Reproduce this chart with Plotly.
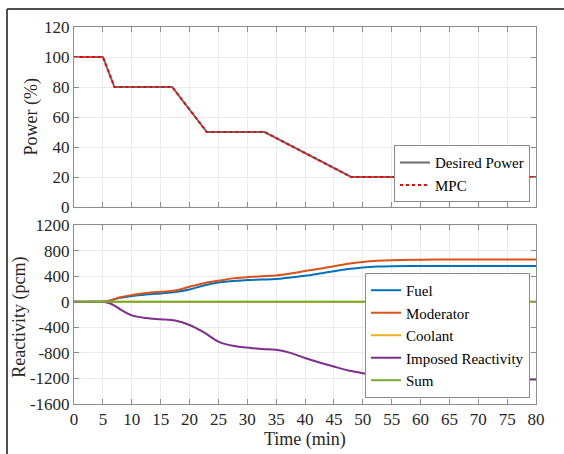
import plotly.graph_objects as go
from plotly.subplots import make_subplots

# ---- data ----
power_t = [0, 5, 7, 17, 23, 33, 48, 80]
desired_power = [100, 100, 80, 80, 50, 50, 20, 20]
mpc_power = [100, 100, 80, 80, 50, 50, 20, 20]

t = [0, 5, 6, 7, 8, 10, 12.5, 15, 17.5, 20, 22.5, 25, 27.5, 30, 32.5, 35, 37.5,
     40, 42.5, 45, 47.5, 50, 52.5, 55, 60, 65, 70, 75, 80]
fuel = [0, 0, 15, 40, 60, 88, 112, 130, 150, 190, 255, 300, 325, 338, 346, 355, 380,
        405, 440, 478, 510, 535, 550, 556, 558, 558, 558, 558, 558]
moderator = [0, 0, 10, 40, 70, 104, 135, 156, 175, 234, 290, 327, 365, 384, 400, 410, 440,
             480, 515, 556, 595, 623, 640, 650, 657, 660, 660, 660, 660]
coolant = [0, 0, 0, 0, 0, 0, 0, 0, 0, 0, 0, 0, 0, 0, 0, 0, 0,
           0, 0, 0, 0, 0, 0, 0, 0, 0, 0, 0, 0]
imposed = [0, 0, -20, -60, -120, -213, -255, -275, -295, -364, -480, -623, -690, -717, -740,
           -753, -800, -880, -950, -1014, -1075, -1118, -1160, -1185, -1205, -1212, -1215,
           -1215, -1215]
total = [0, 0, 0, 0, 0, 0, 0, 0, 0, 0, 0, 0, 0, 0, 0, 0, 0,
         0, 0, 0, 0, 0, 0, 0, 0, 0, 0, 0, 0]

x_ticks = list(range(0, 81, 5))
power_ticks = [0, 20, 40, 60, 80, 100, 120]
react_ticks = [-1600, -1200, -800, -400, 0, 400, 800, 1200]
react_labels = ["-1600", "-1200", "-800", "-400", "0", "400", "800", "1200"]

FONT = "Times New Roman, Liberation Serif, serif"
TXT = "#262626"

fig = make_subplots(rows=2, cols=1, shared_xaxes=False)

fig.add_trace(go.Scatter(x=power_t, y=desired_power, mode="lines", name="Desired Power",
                         line=dict(color="#6b6b6b", width=2), legend="legend"), row=1, col=1)
fig.add_trace(go.Scatter(x=power_t, y=mpc_power, mode="lines", name="MPC",
                         line=dict(color="#ff0000", width=2, dash="dot"), legend="legend"), row=1, col=1)

series = [("Fuel", fuel, "#0072BD"), ("Moderator", moderator, "#D95319"),
          ("Coolant", coolant, "#EDB120"), ("Imposed Reactivity", imposed, "#7E2F8E"),
          ("Sum", total, "#77AC30")]
for name, ys, col in series:
    fig.add_trace(go.Scatter(x=t, y=ys, mode="lines", name=name, line_shape="spline",
                             line=dict(color=col, width=2), legend="legend2"), row=2, col=1)

axis_common = dict(showline=True, linecolor="#8c8c8c", linewidth=1, mirror="ticks",
                   ticks="inside", ticklen=5, tickcolor="#8c8c8c", showgrid=True,
                   gridcolor="#ebebeb", gridwidth=1, zeroline=False,
                   tickfont=dict(family=FONT, size=17, color=TXT))

fig.update_xaxes(**axis_common, range=[0, 80], tickvals=x_ticks)
fig.update_xaxes(showticklabels=False, row=1, col=1)
fig.update_yaxes(**axis_common)
fig.update_yaxes(range=[0, 120], tickvals=power_ticks, row=1, col=1)
fig.update_yaxes(range=[-1600, 1200], tickvals=react_ticks, ticktext=react_labels, row=2, col=1)

legend_common = dict(xanchor="right", yanchor="bottom", bgcolor="white",
                     bordercolor="#8c8c8c", borderwidth=1,
                     font=dict(family=FONT, size=15, color="#000000"),
                     tracegroupgap=0, itemwidth=30)

fig.update_layout(
    width=564, height=454,
    margin=dict(l=74, r=28, t=27, b=50),
    paper_bgcolor="white", plot_bgcolor="white",
    font=dict(family=FONT, color=TXT),
    xaxis=dict(domain=[0, 1]), xaxis2=dict(domain=[0, 1]),
    yaxis=dict(domain=[0.5225, 1.0]), yaxis2=dict(domain=[0.0, 0.4748]),
    legend=dict(x=0.987, y=0.535, **legend_common),
    legend2=dict(x=0.987, y=0.016, **legend_common),
    annotations=[
        dict(text="Power (%)", xref="paper", yref="paper", x=-0.09, y=0.7613,
             textangle=-90, showarrow=False, xanchor="center", yanchor="middle",
             font=dict(family=FONT, size=18, color=TXT)),
        dict(text="Reactivity (pcm)", xref="paper", yref="paper", x=-0.117, y=0.231,
             textangle=-90, showarrow=False, xanchor="center", yanchor="middle",
             font=dict(family=FONT, size=18, color=TXT)),
        dict(text="Time (min)", xref="paper", yref="paper", x=0.5, y=-0.093,
             showarrow=False, xanchor="center", yanchor="middle",
             font=dict(family=FONT, size=18, color=TXT)),
    ],
    shapes=[
        dict(type="line", xref="paper", yref="paper", x0=-0.145, x1=1.07, y0=1.0477, y1=1.0477,
             line=dict(color="#505050", width=2)),
        dict(type="line", xref="paper", yref="paper", x0=-0.145, x1=-0.145, y0=1.0477, y1=-0.14,
             line=dict(color="#505050", width=2)),
    ],
)

fig.write_html("out.html")
